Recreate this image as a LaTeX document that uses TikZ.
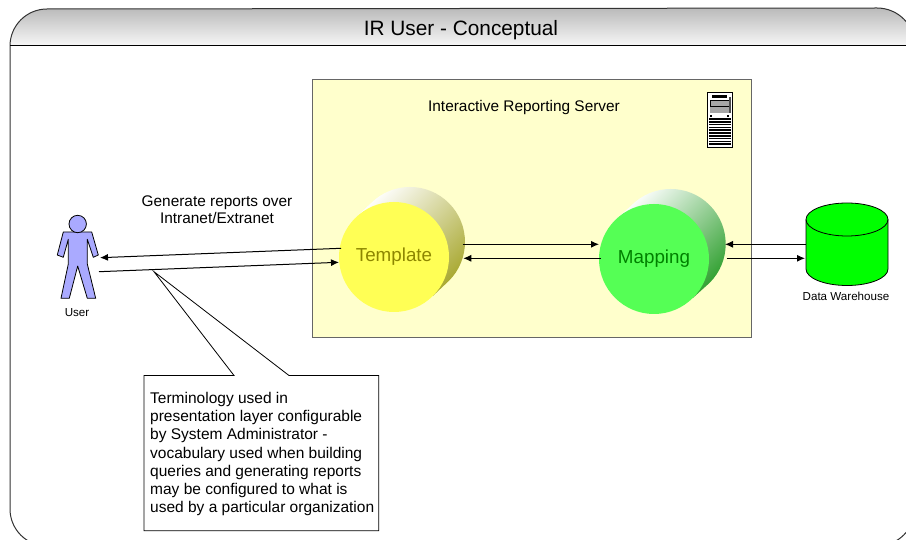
\documentclass[tikz,border=0pt]{standalone}
\usepackage{fontspec}
\setmainfont{Liberation Sans}
\usetikzlibrary{arrows.meta}
\definecolor{serverfill}{HTML}{FFFFCC}
\definecolor{templatefill}{HTML}{FFFF55}
\definecolor{mappingfill}{HTML}{55FF55}
\definecolor{userfill}{HTML}{AAAAFF}
\definecolor{templateshade}{HTML}{A8A830}
\definecolor{mappingshade}{HTML}{30A030}

\begin{document}
\begin{tikzpicture}[x=1pt,y=-1pt,
	every node/.style={font=\fontsize{15.4}{17.6}\selectfont,align=center},
	small/.style={font=\fontsize{11.6}{14}\selectfont},
	big/.style={font=\fontsize{18.8}{22}\selectfont},
	link/.style={draw,-{Latex[length=8pt,width=7pt]},line width=1pt},
	ball/.style={circle,minimum size=110pt,inner sep=0pt}
	]
	\useasboundingbox (0,0) rectangle (906,540);
	\clip (0,0) rectangle (906,540);

	% frame
	\path[top color=black!27,bottom color=black!3] (10,46) arc (-180:-90:37) -- (877,8) arc (-90:0:38) -- cycle;
	\draw[line width=1pt,black!80] (10,46) arc (-180:-90:37) -- (877,8) arc (-90:0:38) -- (915,508) arc (0:90:38) -- (47,546) arc (90:180:37) -- cycle;
	\draw[line width=1pt] (10,46) -- (915,46);
	\node[font=\fontsize{20.8}{24}\selectfont] (title) at (461,30.5) {IR User - Conceptual};

	% server
	\node[draw=black!60,line width=1pt,fill=serverfill,minimum width=439pt,minimum height=258pt,inner sep=0pt] (server) at (531.5,209) {};
	\node (servertitle) at (524,108) {Interactive Reporting Server};

	% template
	\shade[left color=white,right color=templateshade,shading angle=45] (371.1,203.1) arc (-135:45:55) -- (432.9,295.9) -- (355.1,218.1) -- cycle;
	\node[ball,big,fill=templatefill,text=olive] (template) at (394,257) {\raisebox{-1.5pt}{Template}};

	% mapping
	\shade[left color=white,right color=mappingshade,shading angle=45] (631.8,205.1) arc (-135:45:55) -- (692.9,297.9) -- (615.1,220.1) -- cycle;
	\node[ball,big,fill=mappingfill,text=green!50!black] (mapping) at (654,259) {\raisebox{-1.5pt}{Mapping}};

	% user
	\filldraw[fill=userfill,line width=0.8pt,line join=round] (63.3,232) -- (91.7,232) -- (98.3,255) -- (93.3,257.3) -- (87.3,239.3) -- (87.3,264) -- (95.7,298.3) -- (87.3,298.3) -- (77.7,266) -- (69.3,298.3) -- (61,298.3) -- (68.3,264) -- (68.3,239.3) -- (63.3,257.3) -- (57.3,255) -- cycle;
	\node[circle,draw,fill=userfill,minimum size=17.4pt,inner sep=0pt,line width=0.8pt] (userhead) at (77.7,224) {};
	\node[small] (user) at (77,312.5) {User};
	\coordinate (userin) at (100,257.7);
	\coordinate (userout) at (99,271.7);

	% warehouse
	\filldraw[fill=green,line width=0.8pt] (806,219.5) -- (806,269) arc (180:0:41 and 16.5) -- (888,219.5) arc (0:-180:41 and 16.5) -- cycle;
	\draw[line width=0.8pt] (806,219.5) arc (180:0:41 and 16.5);
	\node[small] (warehouse) at (846,296) {Data Warehouse};

	% server icon
	\node[draw,fill=white,minimum width=24.6pt,minimum height=55pt,inner sep=0pt,line width=0.8pt] (icon) at (720,120) {};
	\fill[black!35] (710,100) rectangle (729,113);
	\draw[line width=0.8pt] (710,100) rectangle (729,106);
	\fill (712,95) rectangle (727,98);
	\fill[black!70] (729,97) rectangle (731,113);
	\fill (710,115) rectangle (712,117);
	\fill (727,115) rectangle (729,117);
	\foreach \y in {119,121.8,...,146} {
		\draw[line width=1.7pt] (709,\y) -- (731,\y);
	}

	% connectors
	\coordinate (tempin) at (341,248.3);
	\coordinate (tempin2) at (339,262.3);
	\draw[link] (tempin) -- (userin);
	\draw[link] (userout) -- (tempin2);
	\coordinate (tempright) at (462.7,244.3);
	\coordinate (tempright2) at (463.3,258.3);
	\coordinate (mapleft) at (599,244.3);
	\coordinate (mapleft2) at (601,258.3);
	\draw[link] (tempright) -- (mapleft);
	\draw[link] (mapleft2) -- (tempright2);
	\coordinate (mapright) at (725,244.3);
	\coordinate (mapright2) at (726.7,258.3);
	\coordinate (whleft) at (806,244.3);
	\coordinate (whleft2) at (805,258.3);
	\draw[link] (whleft) -- (mapright);
	\draw[link] (mapright2) -- (whleft2);
	\node (reports) at (217,209.5) {Generate reports over\\Intranet/Extranet};

	% note
	\coordinate (tip) at (154,271.7);
	\filldraw[fill=white,line width=0.8pt] (144,375.5) -- (234,375.5) -- (tip) -- (289,375.5) -- (378.7,375.5) -- (378.7,530.7) -- (144,530.7) -- cycle;
	\node[align=left,anchor=west,inner sep=0pt,font=\fontsize{15.5}{18.2}\selectfont] (note) at (150,454) {Terminology used in\\presentation layer configurable\\by System Administrator -\\vocabulary used when building\\queries and generating reports\\may be configured to what is\\used by a particular organization};
\end{tikzpicture}
\end{document}
